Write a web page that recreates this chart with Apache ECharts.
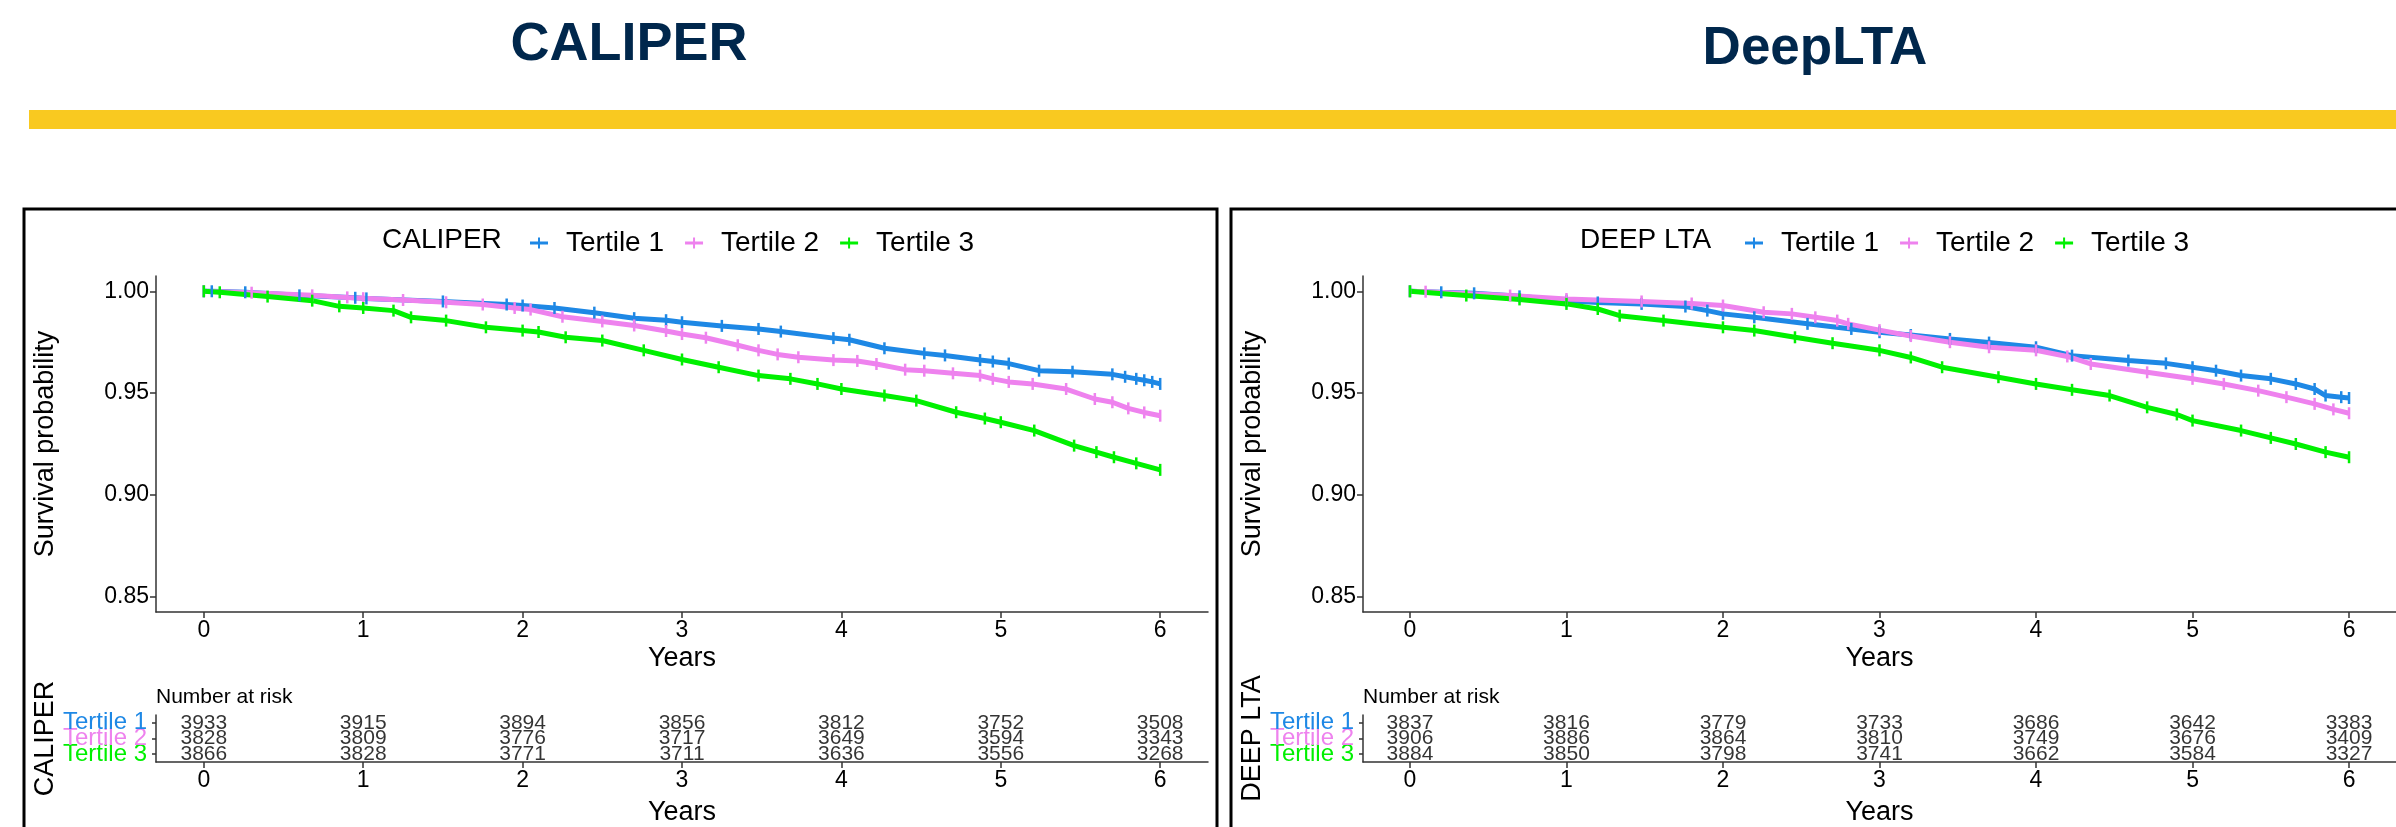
<!DOCTYPE html>
<html>
<head>
<meta charset="utf-8">
<title>CALIPER vs DeepLTA</title>
<script src="https://cdn.jsdelivr.net/npm/echarts@6.0.0/dist/echarts.min.js"></script>
<style>
  html, body { margin: 0; padding: 0; background: #fff; }
  #main { width: 2396px; height: 827px; }
</style>
</head>
<body>
<div id="main"></div>
<script>
// tick positions (years)
const years = [0, 1, 2, 3, 4, 5, 6]
const survTicks = [0.85, 0.9, 0.95, 1.0]
const strata = ['Tertile 1', 'Tertile 2', 'Tertile 3']

// Kaplan-Meier curves, [years, survival]
const caliperTertile1 = [[0, 1], [0.05, 1], [0.26, 0.9995], [0.6, 0.998], [0.95, 0.9968], [1.02, 0.9965], [1.5, 0.995], [1.9, 0.9935], [2.0, 0.993], [2.2, 0.9918], [2.45, 0.9895], [2.7, 0.9868], [2.9, 0.9858], [3.0, 0.9848], [3.25, 0.983], [3.48, 0.9815], [3.62, 0.9802], [3.95, 0.977], [4.05, 0.9762], [4.27, 0.972], [4.52, 0.9695], [4.65, 0.9685], [4.87, 0.9662], [4.95, 0.9655], [5.05, 0.9645], [5.24, 0.961], [5.45, 0.9605], [5.7, 0.9592], [5.78, 0.958], [5.85, 0.957], [5.9, 0.9563], [5.95, 0.9555], [6.0, 0.9545]]
const caliperTertile2 = [[0, 1], [0.3, 0.9993], [0.68, 0.998], [0.9, 0.997], [1.0, 0.9966], [1.25, 0.9957], [1.52, 0.9946], [1.75, 0.9935], [1.95, 0.9918], [2.05, 0.991], [2.25, 0.9875], [2.5, 0.9852], [2.7, 0.9832], [2.9, 0.9805], [3.0, 0.979], [3.15, 0.9772], [3.35, 0.9735], [3.48, 0.971], [3.6, 0.969], [3.73, 0.9676], [3.95, 0.9662], [4.1, 0.9658], [4.22, 0.9643], [4.4, 0.9615], [4.52, 0.961], [4.7, 0.9597], [4.87, 0.9586], [4.95, 0.957], [5.05, 0.9555], [5.2, 0.9545], [5.41, 0.952], [5.59, 0.9471], [5.7, 0.9455], [5.8, 0.9425], [5.9, 0.9405], [6.0, 0.9389]]
const caliperTertile3 = [[0, 1], [0.1, 0.9995], [0.4, 0.9974], [0.68, 0.9954], [0.85, 0.9926], [1.0, 0.9918], [1.19, 0.9905], [1.3, 0.9872], [1.52, 0.9856], [1.77, 0.9823], [2.0, 0.9807], [2.1, 0.98], [2.27, 0.9774], [2.5, 0.9758], [2.76, 0.971], [3.0, 0.9665], [3.23, 0.9627], [3.48, 0.9586], [3.68, 0.957], [3.85, 0.9545], [4.0, 0.952], [4.27, 0.9488], [4.47, 0.9463], [4.72, 0.9406], [4.9, 0.9375], [5.0, 0.9357], [5.21, 0.9316], [5.46, 0.9242], [5.6, 0.921], [5.71, 0.9185], [5.85, 0.9155], [6.0, 0.9123]]

const deepTertile1 = [[0, 1], [0.2, 0.9995], [0.41, 0.999], [0.7, 0.9975], [1.0, 0.9954], [1.2, 0.9945], [1.48, 0.9938], [1.76, 0.9925], [1.9, 0.9905], [2.0, 0.9889], [2.2, 0.9872], [2.54, 0.984], [2.82, 0.9815], [3.0, 0.9799], [3.2, 0.9785], [3.45, 0.9766], [3.7, 0.9748], [4.0, 0.9725], [4.23, 0.9684], [4.59, 0.966], [4.83, 0.9646], [5.0, 0.9627], [5.15, 0.961], [5.31, 0.9586], [5.5, 0.957], [5.66, 0.9545], [5.78, 0.952], [5.85, 0.9488], [5.95, 0.948], [6.0, 0.9476]]
const deepTertile2 = [[0, 1], [0.1, 0.9998], [0.64, 0.9979], [1.0, 0.9962], [1.48, 0.995], [1.8, 0.994], [2.0, 0.993], [2.26, 0.9897], [2.44, 0.9889], [2.59, 0.9872], [2.73, 0.9856], [2.8, 0.984], [3.0, 0.9809], [3.2, 0.978], [3.45, 0.975], [3.7, 0.9725], [4.0, 0.971], [4.2, 0.968], [4.35, 0.9643], [4.71, 0.9602], [5.0, 0.957], [5.2, 0.9545], [5.42, 0.9512], [5.6, 0.948], [5.78, 0.9447], [5.9, 0.942], [6.0, 0.9401]]
const deepTertile3 = [[0, 1], [0.36, 0.9979], [0.7, 0.996], [1.0, 0.9938], [1.2, 0.9913], [1.34, 0.988], [1.62, 0.9856], [2.0, 0.9823], [2.2, 0.9807], [2.46, 0.9774], [2.7, 0.9745], [3.0, 0.971], [3.2, 0.9675], [3.4, 0.9627], [3.76, 0.9578], [4.0, 0.9545], [4.23, 0.9516], [4.47, 0.9488], [4.71, 0.943], [4.9, 0.9395], [5.0, 0.9365], [5.31, 0.9316], [5.5, 0.928], [5.66, 0.925], [5.85, 0.921], [6.0, 0.9185]]

// number at risk at years 0..6
const caliperRisk1 = [3933, 3915, 3894, 3856, 3812, 3752, 3508]
const caliperRisk2 = [3828, 3809, 3776, 3717, 3649, 3594, 3343]
const caliperRisk3 = [3866, 3828, 3771, 3711, 3636, 3556, 3268]
const deepRisk1 = [3837, 3816, 3779, 3733, 3686, 3642, 3383]
const deepRisk2 = [3906, 3886, 3864, 3810, 3749, 3676, 3409]
const deepRisk3 = [3884, 3850, 3798, 3741, 3662, 3584, 3327]

const colors = ['#1E88E5', '#EE82EE', '#00F000']
const FONT = 'Liberation Sans, Arial, sans-serif'
const AXIS = '#333'
const plusIcon = 'path://M0,4H18V7H0Z M8,0H10V11H8Z'

function curve(name, data, color, idx) {
  return {
    name: name,
    type: 'line',
    xAxisIndex: idx,
    yAxisIndex: idx,
    data: data,
    showSymbol: true,
    symbol: 'rect',
    symbolSize: [2.5, 12],
    lineStyle: { width: 5, color: color },
    itemStyle: { color: color },
    silent: true,
  }
}

function risk(name, counts, idx) {
  return {
    name: name,
    type: 'scatter',
    xAxisIndex: idx,
    yAxisIndex: idx,
    symbolSize: 1,
    itemStyle: { color: 'rgba(0,0,0,0)' },
    data: years.map((y, i) => [y, name, counts[i]]),
    label: {
      show: true,
      position: 'inside',
      formatter: (p) => p.value[2],
      fontSize: 21,
      fontFamily: FONT,
      color: '#000',
    },
    silent: true,
  }
}

function xAxis(idx, gap) {
  return {
    gridIndex: idx,
    type: 'value',
    min: -0.3,
    max: 6.3,
    name: 'Years',
    nameLocation: 'middle',
    nameGap: gap,
    nameTextStyle: { fontSize: 27, fontFamily: FONT, color: '#000' },
    axisLine: { show: true, onZero: false, lineStyle: { color: AXIS, width: 1.5 } },
    axisTick: { show: true, length: 6, customValues: years, lineStyle: { color: AXIS, width: 1.5 } },
    axisLabel: { customValues: years, fontSize: 23, fontFamily: FONT, color: '#000', margin: 7 },
    splitLine: { show: false },
  }
}

function survAxis(idx) {
  return {
    gridIndex: idx,
    type: 'value',
    min: 0.8425,
    max: 1.0075,
    name: 'Survival probability',
    nameLocation: 'middle',
    nameRotate: 90,
    nameGap: 97,
    nameTextStyle: { fontSize: 27, fontFamily: FONT, color: '#000' },
    axisLine: { show: true, onZero: false, lineStyle: { color: AXIS, width: 1.5 } },
    axisTick: { show: true, length: 6, customValues: survTicks, lineStyle: { color: AXIS, width: 1.5 } },
    axisLabel: { customValues: survTicks, formatter: (v) => v.toFixed(2), fontSize: 23, fontFamily: FONT, color: '#000', margin: 7 },
    splitLine: { show: false },
  }
}

function tableAxis(idx, title) {
  return {
    gridIndex: idx,
    type: 'category',
    data: strata.slice().reverse(),
    name: title,
    nameLocation: 'middle',
    nameRotate: 90,
    nameGap: 97,
    nameTextStyle: { fontSize: 27, fontFamily: FONT, color: '#000' },
    axisLine: { show: true, onZero: false, lineStyle: { color: AXIS, width: 1.5 } },
    axisTick: { show: true, alignWithLabel: true, interval: 0, length: 4, lineStyle: { color: AXIS, width: 1.5 } },
    axisLabel: { interval: 0, fontSize: 24, fontFamily: FONT, margin: 9, color: (v) => colors[strata.indexOf(v)] },
    splitLine: { show: false },
  }
}

function legend(left) {
  return {
    left: left,
    top: 224,
    itemWidth: 18,
    itemHeight: 11,
    itemGap: 21,
    data: strata.map((s) => ({ name: s, icon: plusIcon })),
    textStyle: { fontSize: 28, fontFamily: FONT, color: '#000', padding: [0, 0, 0, 13] },
    selectedMode: false,
  }
}

function text(x, y, str, font, fill, align) {
  return {
    type: 'text',
    x: x,
    y: y,
    silent: true,
    style: { text: str, font: font, fill: fill || '#000', align: align || 'left', verticalAlign: 'middle' },
  }
}

const chart = echarts.init(document.getElementById('main'))

chart.setOption({
  backgroundColor: '#fff',
  animation: false,
  grid: [
    { left: 156, top: 276, width: 1052, height: 336 },
    { left: 156, top: 715, width: 1052, height: 53 },
    { left: 1363, top: 276, width: 1052, height: 336 },
    { left: 1363, top: 715, width: 1052, height: 53 },
  ],
  xAxis: [xAxis(0, 33), xAxis(1, 37), xAxis(2, 33), xAxis(3, 37)],
  yAxis: [survAxis(0), tableAxis(1, 'CALIPER'), survAxis(2), tableAxis(3, 'DEEP LTA')],
  legend: [legend(525), legend(1740)],
  graphic: [
    // slide header
    { type: 'rect', silent: true, shape: { x: 29, y: 110, width: 2367, height: 19 }, style: { fill: '#F9C920' } },
    text(629, 45, 'CALIPER', 'bold 54px ' + FONT, '#00274C', 'center'),
    text(1815, 49, 'DeepLTA', 'bold 53px ' + FONT, '#00274C', 'center'),
    // panel frames
    { type: 'rect', silent: true, shape: { x: 24, y: 209, width: 1193, height: 700 }, style: { fill: 'none', stroke: '#000', lineWidth: 3 } },
    { type: 'rect', silent: true, shape: { x: 1231, y: 209, width: 1300, height: 700 }, style: { fill: 'none', stroke: '#000', lineWidth: 3 } },
    // legend titles
    text(382, 240, 'CALIPER', '28px ' + FONT),
    text(1580, 240, 'DEEP LTA', '28px ' + FONT),
    text(156, 697, 'Number at risk', '21px ' + FONT),
    text(1363, 697, 'Number at risk', '21px ' + FONT),
  ],
  series: [
    curve('Tertile 1', caliperTertile1, colors[0], 0),
    curve('Tertile 2', caliperTertile2, colors[1], 0),
    curve('Tertile 3', caliperTertile3, colors[2], 0),
    curve('Tertile 1', deepTertile1, colors[0], 2),
    curve('Tertile 2', deepTertile2, colors[1], 2),
    curve('Tertile 3', deepTertile3, colors[2], 2),
    risk('Tertile 1', caliperRisk1, 1),
    risk('Tertile 2', caliperRisk2, 1),
    risk('Tertile 3', caliperRisk3, 1),
    risk('Tertile 1', deepRisk1, 3),
    risk('Tertile 2', deepRisk2, 3),
    risk('Tertile 3', deepRisk3, 3),
  ],
})

window.onresize = () => chart.resize()
</script>
</body>
</html>
